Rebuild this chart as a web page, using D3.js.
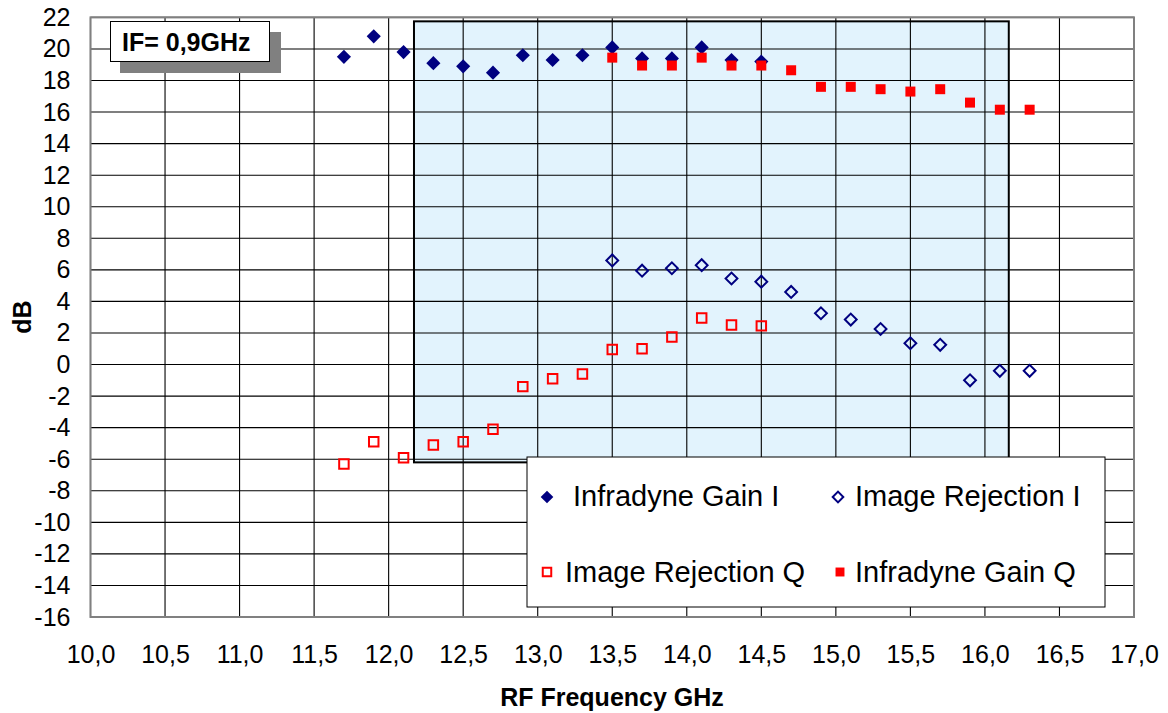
<!DOCTYPE html>
<html>
<head>
<meta charset="utf-8">
<script src="https://cdn.jsdelivr.net/npm/d3@7"></script>
<style>
  body { margin: 0; background: #fff; }
  text { font-family: "Liberation Sans", Arial, sans-serif; }
</style>
</head>
<body>
<div id="chart-container"></div>
<script>
// RF frequency points (GHz)
var freqLow = [11.7, 11.9, 12.1, 12.3, 12.5, 12.7, 12.9, 13.1, 13.3, 13.5, 13.7, 13.9, 14.1, 14.3, 14.5];
var freqHigh = [13.5, 13.7, 13.9, 14.1, 14.3, 14.5, 14.7, 14.9, 15.1, 15.3, 15.5, 15.7, 15.9, 16.1, 16.3];

// measured values (dB)
var gainI = [19.5, 20.8, 19.8, 19.1, 18.9, 18.5, 19.6, 19.3, 19.6, 20.1, 19.4, 19.4, 20.1, 19.3, 19.2];
var rejectionQ = [-6.3, -4.9, -5.9, -5.1, -4.9, -4.1, -1.4, -0.9, -0.6, 0.95, 1.0, 1.75, 2.95, 2.5, 2.45];
var gainQ = [19.45, 18.95, 18.95, 19.45, 18.95, 18.95, 18.65, 17.6, 17.6, 17.45, 17.3, 17.45, 16.6, 16.15, 16.15];
var rejectionI = [6.6, 5.95, 6.1, 6.3, 5.45, 5.25, 4.6, 3.25, 2.85, 2.25, 1.35, 1.25, -1.0, -0.4, -0.4];

// axis ticks
var xTicks = [10, 10.5, 11, 11.5, 12, 12.5, 13, 13.5, 14, 14.5, 15, 15.5, 16, 16.5, 17];
var yTicks = [-16, -14, -12, -10, -8, -6, -4, -2, 0, 2, 4, 6, 8, 10, 12, 14, 16, 18, 20, 22];

// highlighted band (GHz / dB)
var bandX = [12.17, 16.16];
var bandY = [-6.2, 21.75];

var svg = d3.select("#chart-container")
    .append("svg")
    .attr("width", 1168)
    .attr("height", 713);

var xScale = d3.scaleLinear().domain([10, 17]).range([90.5, 1134]);
var yScale = d3.scaleLinear().domain([-16, 22]).range([617, 17.4]);

var comma = d3.formatLocale({decimal: ",", thousands: ".", grouping: [3], currency: ["", ""], minus: "-"});

// shaded band fill (under the grid)
svg.append("rect")
    .attr("x", xScale(bandX[0]))
    .attr("y", yScale(bandY[1]))
    .attr("width", xScale(bandX[1]) - xScale(bandX[0]))
    .attr("height", yScale(bandY[0]) - yScale(bandY[1]))
    .attr("fill", "#e2f3fd");

// grid lines
var grid = svg.append("g").attr("id", "grid");
grid.selectAll("line.v").data(xTicks).enter().append("line")
    .attr("x1", function(d) { return xScale(d); })
    .attr("x2", function(d) { return xScale(d); })
    .attr("y1", yScale(22))
    .attr("y2", yScale(-16))
    .attr("stroke", "#000")
    .attr("stroke-width", 1.1);
grid.selectAll("line.h").data(yTicks).enter().append("line")
    .attr("x1", xScale(10))
    .attr("x2", xScale(17))
    .attr("y1", function(d) { return yScale(d); })
    .attr("y2", function(d) { return yScale(d); })
    .attr("stroke", "#000")
    .attr("stroke-width", 1.1);

// plot frame
svg.append("rect")
    .attr("x", xScale(10))
    .attr("y", yScale(22))
    .attr("width", xScale(17) - xScale(10))
    .attr("height", yScale(-16) - yScale(22))
    .attr("fill", "none")
    .attr("stroke", "#808080")
    .attr("stroke-width", 2);

// band outline
svg.append("rect")
    .attr("x", xScale(bandX[0]))
    .attr("y", yScale(bandY[1]))
    .attr("width", xScale(bandX[1]) - xScale(bandX[0]))
    .attr("height", yScale(bandY[0]) - yScale(bandY[1]))
    .attr("fill", "none")
    .attr("stroke", "#000")
    .attr("stroke-width", 2);

// axes (labels only)
var xAxis = svg.append("g")
    .attr("transform", "translate(0," + yScale(-16) + ")")
    .call(d3.axisBottom(xScale).tickValues(xTicks).tickSize(0).tickPadding(28).tickFormat(comma.format(".1f")));
var yAxis = svg.append("g")
    .attr("transform", "translate(" + xScale(10) + ",0)")
    .call(d3.axisLeft(yScale).tickValues(yTicks).tickSize(0).tickPadding(20).tickFormat(comma.format("d")));
[xAxis, yAxis].forEach(function(ax) {
    ax.select(".domain").remove();
    ax.selectAll("text")
        .style("font-family", "'Liberation Sans', Arial, sans-serif")
        .style("font-size", "25px")
        .attr("fill", "#000");
});

// axis titles
svg.append("text")
    .attr("x", 612)
    .attr("y", 706)
    .attr("text-anchor", "middle")
    .style("font-size", "25px")
    .style("font-weight", "bold")
    .text("RF Frequency GHz");
svg.append("text")
    .attr("transform", "translate(31,317) rotate(-90)")
    .attr("text-anchor", "middle")
    .style("font-size", "25px")
    .style("font-weight", "bold")
    .text("dB");

// markers
var series = [
    {name: "Infradyne Gain I", x: freqLow, y: gainI, shape: "diamond", fill: "#000080", stroke: "none", size: 100},
    {name: "Image Rejection I", x: freqHigh, y: rejectionI, shape: "diamond", fill: "none", stroke: "#000080", size: 70},
    {name: "Image Rejection Q", x: freqLow, y: rejectionQ, shape: "square", fill: "none", stroke: "#ff0000", size: 90},
    {name: "Infradyne Gain Q", x: freqHigh, y: gainQ, shape: "square", fill: "#ff0000", stroke: "none", size: 100}
];

function drawMarker(g, s, cx, cy, scale) {
    var sz = s.size * (scale || 1);
    g.append("path")
        .attr("d", d3.symbol().type(d3.symbolSquare).size(sz)())
        .attr("transform", "translate(" + cx + "," + cy + ")" + (s.shape === "diamond" ? " rotate(45)" : ""))
        .attr("fill", s.fill)
        .attr("stroke", s.stroke)
        .attr("stroke-width", s.stroke === "none" ? 0 : 2);
}

var points = svg.append("g").attr("id", "points");
// gain I first, gain Q drawn over it
series.forEach(function(s) {
    s.x.forEach(function(f, i) {
        drawMarker(points, s, xScale(f), yScale(s.y[i]));
    });
});

// IF label box with shadow
svg.append("rect")
    .attr("x", 120).attr("y", 32)
    .attr("width", 161).attr("height", 41)
    .attr("fill", "#808080");
svg.append("rect")
    .attr("x", 110.5).attr("y", 21.5)
    .attr("width", 159).attr("height", 40)
    .attr("fill", "#fff")
    .attr("stroke", "#000")
    .attr("stroke-width", 1);
svg.append("text")
    .attr("x", 122)
    .attr("y", 51)
    .style("font-size", "25px")
    .style("font-weight", "bold")
    .text("IF= 0,9GHz");

// legend
var legend = svg.append("g").attr("id", "legend");
legend.append("rect")
    .attr("x", 527).attr("y", 457)
    .attr("width", 578).attr("height", 150)
    .attr("fill", "#fff")
    .attr("stroke", "#000")
    .attr("stroke-width", 1);

var legendItems = [
    {s: series[0], mx: 547, my: 497, tx: 573, ty: 506},
    {s: series[1], mx: 838, my: 497, tx: 855, ty: 506},
    {s: series[2], mx: 547, my: 572, tx: 565, ty: 582},
    {s: series[3], mx: 840, my: 572, tx: 855, ty: 582}
];
legendItems.forEach(function(it) {
    drawMarker(legend, it.s, it.mx, it.my, 0.8);
    legend.append("text")
        .attr("x", it.tx)
        .attr("y", it.ty)
        .style("font-size", "29px")
        .text(it.s.name);
});
</script>
</body>
</html>
